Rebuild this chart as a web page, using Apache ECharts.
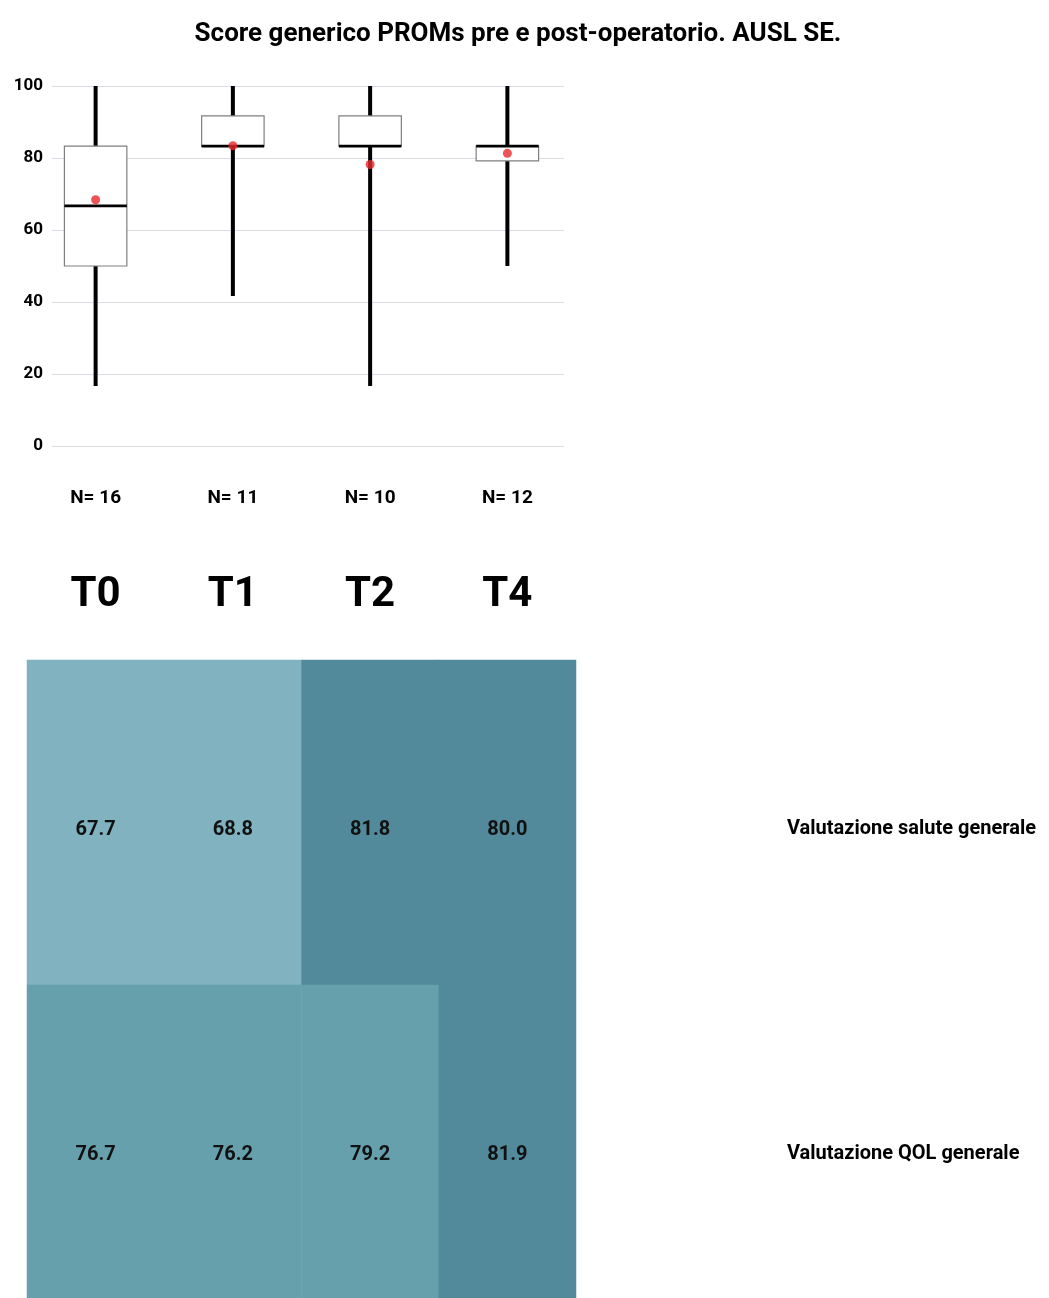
<!DOCTYPE html>
<html>
<head>
<meta charset="utf-8">
<script src="https://cdn.jsdelivr.net/npm/echarts@6/dist/echarts.min.js"></script>
<style>
html,body{margin:0;padding:0;background:#fff;}
#chart{width:1049px;height:1298px;}
</style>
</head>
<body>
<div id="chart"></div>
<script>
// ---- Data ----
const categories = ['T0', 'T1', 'T2', 'T4'];
const nCounts = [16, 11, 10, 12];
const whiskerLow = [16.7, 41.7, 16.7, 50.0];
const q1 = [50.0, 83.3, 83.3, 79.2];
const median = [66.7, 83.3, 83.3, 83.3];
const q3 = [83.3, 91.7, 91.7, 83.3];
const whiskerHigh = [100, 100, 100, 100];
const means = [68.4, 83.4, 78.2, 81.3];
const yTicks = [0, 20, 40, 60, 80, 100];

const heatRows = ['Valutazione salute generale', 'Valutazione QOL generale'];
const saluteValues = [67.7, 68.8, 81.8, 80.0];
const qolValues = [76.7, 76.2, 79.2, 81.9];

// ---- Build ----
const FONT = 'Roboto';
const boxData = categories.map((c, i) => [i, whiskerLow[i], q1[i], median[i], q3[i], whiskerHigh[i]]);
const meanData = categories.map((c, i) => [i, means[i]]);
const heatData = [];
saluteValues.forEach((v, i) => heatData.push([i, 0, v]));
qolValues.forEach((v, i) => heatData.push([i, 1, v]));

const chart = echarts.init(document.getElementById('chart'), null, {renderer: 'canvas'});

const option = {
  backgroundColor: '#ffffff',
  animation: false,
  title: {
    text: 'Score generico PROMs pre e post-operatorio. AUSL SE.',
    left: 513, textAlign: 'center', top: 16,
    textStyle: {fontFamily: FONT, fontWeight: 'bold', fontSize: 26, color: '#000'}
  },
  grid: [
    {left: 52, width: 512, top: 86, height: 360, outerBoundsMode: 'none'},
    {left: 27, width: 549, top: 86, height: 360, outerBoundsMode: 'none'},
    {left: 27, width: 549, top: 660, height: 650, outerBoundsMode: 'none'}
  ],
  xAxis: [
    {gridIndex: 0, type: 'category', data: categories, show: false},
    {gridIndex: 1, type: 'category', data: categories,
      axisLine: {show: false}, axisTick: {show: false},
      axisLabel: {margin: 43, fontFamily: FONT, fontWeight: 'bold', fontSize: 19, color: '#000',
        formatter: (v, i) => 'N= ' + nCounts[i]}},
    {gridIndex: 1, type: 'category', data: categories, position: 'bottom',
      axisLine: {show: false}, axisTick: {show: false},
      axisLabel: {margin: 128, fontFamily: FONT, fontWeight: 'bold', fontSize: 42, color: '#000'}},
    {gridIndex: 2, type: 'category', data: categories, show: false}
  ],
  yAxis: [
    {gridIndex: 0, type: 'value', min: 0, max: 100, interval: 20,
      axisLine: {show: false}, axisTick: {show: false},
      axisLabel: {margin: 9, fontFamily: FONT, fontWeight: 'bold', fontSize: 17, color: '#000'},
      splitLine: {lineStyle: {color: '#d9dcea', width: 1}}},
    {gridIndex: 1, type: 'value', min: 0, max: 100, interval: 20, show: false},
    {gridIndex: 2, type: 'category', data: heatRows, inverse: true, position: 'right',
      axisLine: {show: false}, axisTick: {show: false}, splitArea: {show: false},
      axisLabel: {margin: 211, align: 'left', color: '#000',
        formatter: v => '{a|' + v + '}',
        rich: {a: {fontFamily: FONT, fontWeight: 'bold', fontSize: 20, color: '#000', padding: [13, 0, 0, 0]}}}}
  ],
  visualMap: {
    show: false, type: 'piecewise', seriesIndex: 2, dimension: 2,
    pieces: [
      {lt: 72, color: '#80b3bf'},
      {gte: 72, lt: 79.5, color: '#67a0ad'},
      {gte: 79.5, color: '#528a9b'}
    ]
  },
  series: [
    {
      type: 'custom', xAxisIndex: 1, yAxisIndex: 1, data: boxData, z: 2,
      encode: {x: 0, y: [1, 2, 3, 4, 5]},
      renderItem: function (params, api) {
        const i = api.value(0);
        const lo = api.coord([i, api.value(1)]);
        const b1 = api.coord([i, api.value(2)]);
        const md = api.coord([i, api.value(3)]);
        const b3 = api.coord([i, api.value(4)]);
        const hi = api.coord([i, api.value(5)]);
        const bw = api.size([1, 0])[0] * 0.455;
        const x0 = lo[0] - bw / 2;
        return {
          type: 'group',
          children: [
            {type: 'line', shape: {x1: lo[0], y1: lo[1], x2: hi[0], y2: hi[1]},
              style: {stroke: '#000', lineWidth: 4}},
            {type: 'rect', shape: {x: x0, y: b3[1], width: bw, height: b1[1] - b3[1]},
              style: {fill: '#fff', stroke: '#7f7f7f', lineWidth: 1.2}},
            {type: 'line', shape: {x1: x0, y1: md[1], x2: x0 + bw, y2: md[1]},
              style: {stroke: '#000', lineWidth: 2.6}}
          ]
        };
      }
    },
    {
      type: 'scatter', xAxisIndex: 1, yAxisIndex: 1, data: meanData, z: 5,
      symbol: 'circle', symbolSize: 9, itemStyle: {color: '#e8282a'}
    },
    {
      type: 'heatmap', xAxisIndex: 3, yAxisIndex: 2, data: heatData,
      label: {show: true, fontFamily: FONT, fontWeight: 'bold', fontSize: 20, color: '#111',
        offset: [0, 7], formatter: p => p.value[2].toFixed(1)},
      itemStyle: {borderWidth: 0}
    }
  ]
};
chart.setOption(option);
</script>
</body>
</html>
